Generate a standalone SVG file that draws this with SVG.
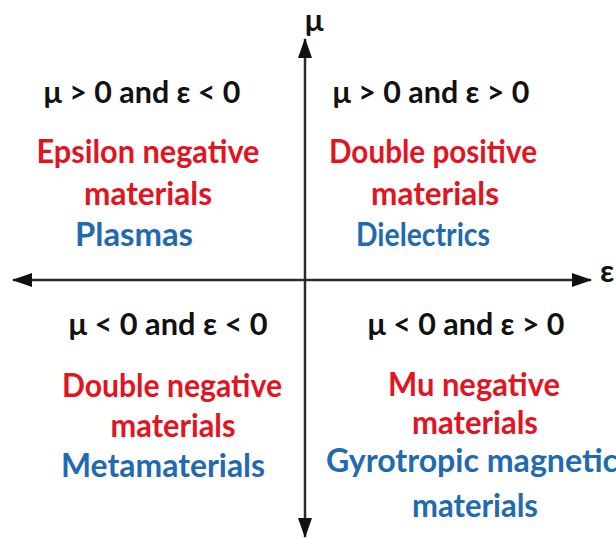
<svg xmlns="http://www.w3.org/2000/svg" width="616" height="539" viewBox="0 0 616 539">
<style>
text{font-family:Lato,"Open Sans","Liberation Sans",sans-serif;font-weight:bold;font-size:32px;text-anchor:middle}
.k{fill:#111;font-size:31px}
.r{fill:#e3141f}
.b{fill:#1f6ab0}
.ax{stroke:#2a2a2a;stroke-width:2.5;fill:none}
</style>
<defs>
<marker id="ah" viewBox="0 0 20 14" refX="19" refY="7" markerWidth="20" markerHeight="14" markerUnits="userSpaceOnUse" orient="auto-start-reverse">
<path d="M0,0 L20,7 L0,14 z" fill="#111"/>
</marker>
</defs>
<rect width="616" height="539" fill="#fff"/>
<g id="connectors">
<line class="ax" x1="305" y1="537" x2="305" y2="39" marker-start="url(#ah)" marker-end="url(#ah)"/>
<line class="ax" x1="13" y1="280" x2="591" y2="280" marker-start="url(#ah)" marker-end="url(#ah)"/>
</g>
<g id="axis-labels">
<text class="k" x="314" y="31">μ</text>
<text class="k" x="607" y="282">ε</text>
</g>
<g id="q2">
<text class="k" x="142" y="103" textLength="197" lengthAdjust="spacingAndGlyphs">μ &gt; 0 and ε &lt; 0</text>
<text class="r" x="148" y="163" textLength="223" lengthAdjust="spacingAndGlyphs">Epsilon negative</text>
<text class="r" x="148" y="205" textLength="128" lengthAdjust="spacingAndGlyphs">materials</text>
<text class="b" x="134" y="246" textLength="118" lengthAdjust="spacingAndGlyphs">Plasmas</text>
</g>
<g id="q1">
<text class="k" x="431" y="103" textLength="197" lengthAdjust="spacingAndGlyphs">μ &gt; 0 and ε &gt; 0</text>
<text class="r" x="433" y="163" textLength="208" lengthAdjust="spacingAndGlyphs">Double positive</text>
<text class="r" x="435" y="205" textLength="128" lengthAdjust="spacingAndGlyphs">materials</text>
<text class="b" x="423" y="246" textLength="134" lengthAdjust="spacingAndGlyphs">Dielectrics</text>
</g>
<g id="q3">
<text class="k" x="168" y="335" textLength="199" lengthAdjust="spacingAndGlyphs">μ &lt; 0 and ε &lt; 0</text>
<text class="r" x="172" y="397" textLength="220" lengthAdjust="spacingAndGlyphs">Double negative</text>
<text class="r" x="173" y="437" textLength="125" lengthAdjust="spacingAndGlyphs">materials</text>
<text class="b" x="163" y="477" textLength="204" lengthAdjust="spacingAndGlyphs">Metamaterials</text>
</g>
<g id="q4">
<text class="k" x="466" y="335" textLength="197" lengthAdjust="spacingAndGlyphs">μ &lt; 0 and ε &gt; 0</text>
<text class="r" x="474" y="396" textLength="172" lengthAdjust="spacingAndGlyphs">Mu negative</text>
<text class="r" x="475" y="434" textLength="126" lengthAdjust="spacingAndGlyphs">materials</text>
<text class="b" x="472" y="472" textLength="292" lengthAdjust="spacingAndGlyphs">Gyrotropic magnetic</text>
<text class="b" x="475" y="517" textLength="126" lengthAdjust="spacingAndGlyphs">materials</text>
</g>
</svg>
